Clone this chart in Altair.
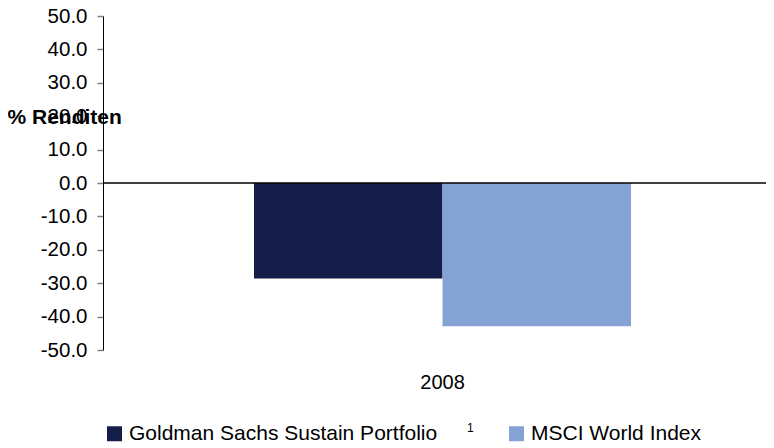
import altair as alt
import pandas as pd

years = ["2008"]
series = ["Goldman Sachs Sustain Portfolio", "MSCI World Index"]
values = [-28.6, -42.9]
colors = ["#151E48", "#84A2D4"]
y_ticks = [-50, -40, -30, -20, -10, 0, 10, 20, 30, 40, 50]

df = pd.DataFrame({"Jahr": [years[0]] * len(series), "Serie": series, "Wert": values})

FONT = "Liberation Sans"

y_scale = alt.Scale(domain=[-50, 50], nice=False, zero=False)
y_axis = alt.Axis(values=y_ticks, labelOverlap=False, labelBound=False,
                  labelFlush=False,
                  labelExpr="replace(format(datum.value, '.1f'), '\u2212', '-')",
                  title="% Renditen", titleAngle=0, titleAlign="left",
                  titleBaseline="middle", titleX=-96, titleY=101,
                  titleFontSize=21, titleFontWeight="bold", titleFont=FONT,
                  titleColor="#000000",
                  grid=False, domainColor="#000000", domainWidth=1,
                  tickColor="#808080", tickSize=6, tickWidth=1.5,
                  labelFontSize=20.5, labelFont=FONT, labelColor="#000000",
                  labelPadding=10)

bars = alt.Chart(df).mark_bar().encode(
    x=alt.X("Jahr:N",
            scale=alt.Scale(paddingInner=0, paddingOuter=0.3793, align=0.528),
            axis=alt.Axis(title=None, labelAngle=0, domain=False, ticks=False,
                          labelFontSize=20, labelColor="#000000", labelFont=FONT,
                          labelPadding=22)),
    xOffset=alt.XOffset("Serie:N", sort=series,
                        scale=alt.Scale(paddingInner=0, paddingOuter=0)),
    y=alt.Y("Wert:Q", scale=y_scale, axis=y_axis),
    color=alt.Color("Serie:N", sort=series,
                    scale=alt.Scale(domain=series, range=colors),
                    legend=alt.Legend(title=None, orient="none", direction="horizontal",
                                      legendX=1, legendY=407, symbolType="square",
                                      symbolSize=225, symbolStrokeWidth=0,
                                      labelFontSize=21, labelFont=FONT, labelColor="#000000",
                                      labelLimit=500, labelOffset=4, columnPadding=68,
                                      padding=0)),
)

zero = pd.DataFrame({"Wert": [0]})
rule = alt.Chart(zero).mark_rule(color="#000000", strokeWidth=1.6).encode(
    y=alt.Y("Wert:Q", scale=y_scale, axis=y_axis)
)

note = pd.DataFrame({"t": ["1"]})
sup = alt.Chart(note).mark_text(fontSize=12, font=FONT, color="#000000", align="left",
                                baseline="middle").encode(
    text="t:N", x=alt.value(364), y=alt.value(412)
)

chart = alt.layer(bars, rule, sup).properties(
    width=663, height=334,
    autosize=alt.AutoSizeParams(type="none"),
    padding={"left": 95, "top": 8, "right": 0, "bottom": 94},
).configure_view(stroke=None)

chart.save("out.html", embed_options={"renderer": "svg", "actions": False})
